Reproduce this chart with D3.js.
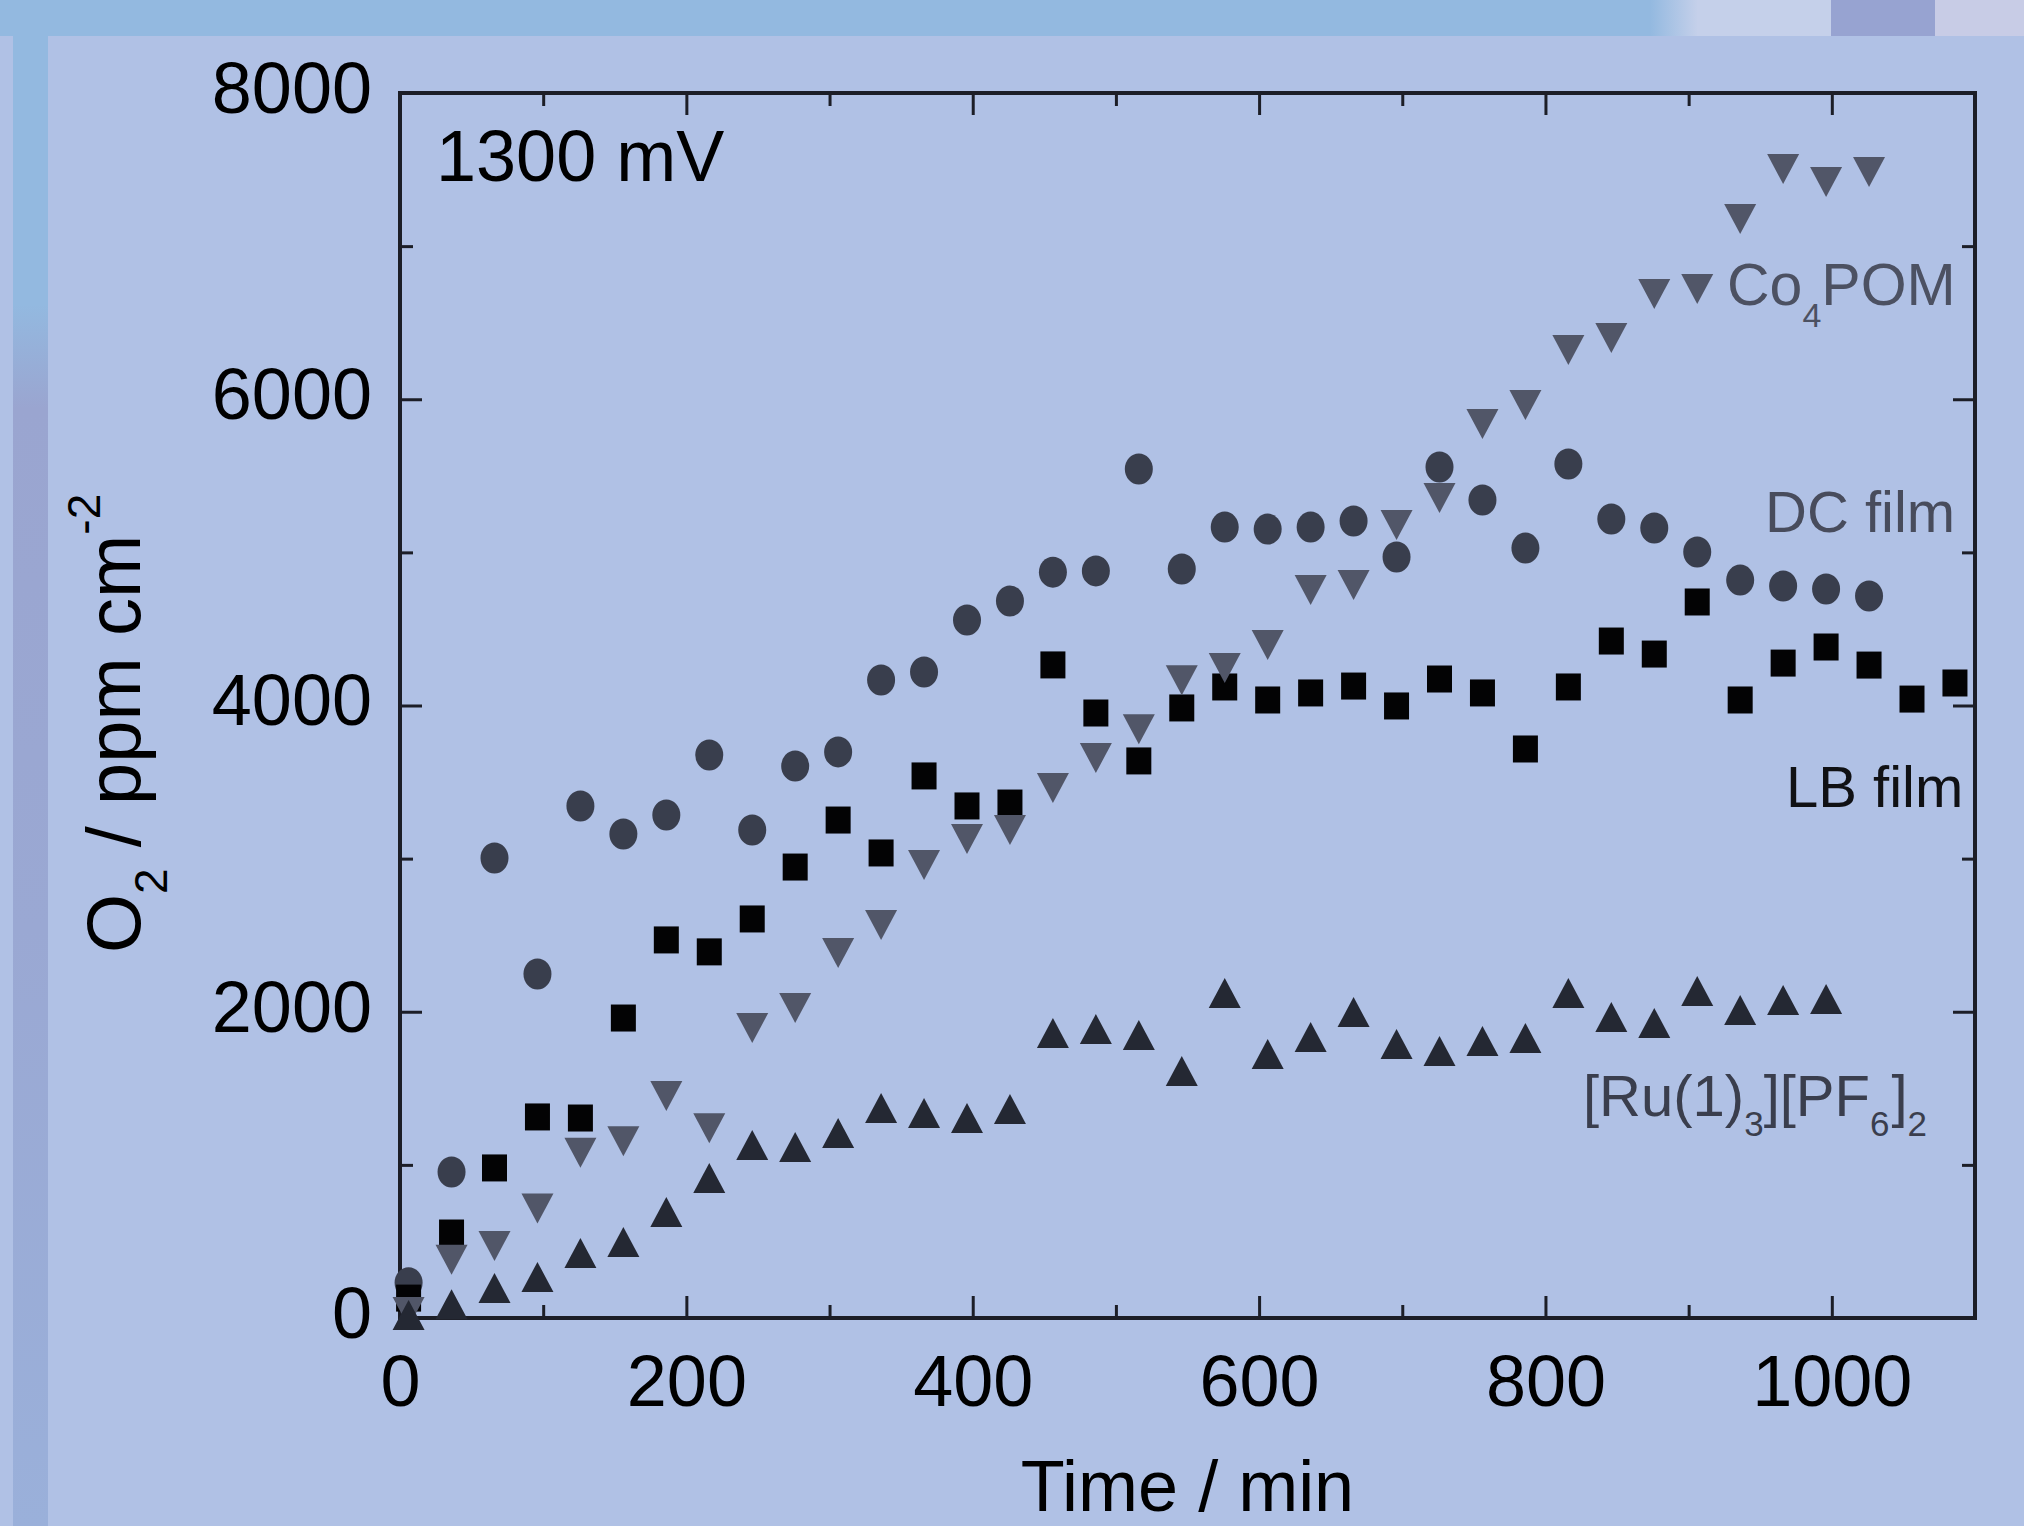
<!DOCTYPE html>
<html><head><meta charset="utf-8">
<script src="https://cdn.jsdelivr.net/npm/d3@7"></script>
<style>
body{margin:0;background:#b0c1e5;}
svg{display:block;}
text{font-family:"Liberation Sans", Arial, Helvetica, sans-serif;}
</style>
</head><body>
<svg id="chart" width="2024" height="1526"></svg>
<script>
// ---- data (time in min, O2 in ppm cm^-2) ----
const times = [6,36,66,96,126,156,186,216,246,276,306,336,366,396,426,456,486,516,546,576,606,636,666,696,726,756,786,816,846,876,906,936,966,996,1026,1056,1086];
const dcFilm = [230,953,3004,2247,3344,3161,3285,3677,3187,3605,3697,4166,4219,4558,4682,4871,4879,5545,4891,5165,5152,5165,5205,4970,5557,5342,5028,5577,5218,5159,5002,4819,4780,4761,4715];
const lbFilm = [130,555,980,1313,1306,1959,2469,2391,2606,2945,3252,3037,3540,3344,3363,4265,3951,3638,3984,4121,4036,4082,4127,3997,4173,4082,3716,4121,4421,4336,4676,4036,4277,4382,4264,4042,4147];
const co4pom = [40,380,470,715,1080,1155,1450,1240,1894,2025,2384,2566,2958,3128,3187,3461,3657,3845,4165,4245,4395,4754,4787,5179,5355,5838,5962,6321,6400,6687,6720,7177,7503,7418,7484];
const ruPF6 = [20,90,196,268,424,496,692,914,1130,1117,1208,1371,1339,1306,1365,1861,1887,1848,1613,2122,1724,1835,1998,1789,1744,1809,1828,2122,1966,1927,2135,2011,2077,2083];

const xTicks = [0,200,400,600,800,1000];
const xMinor = [100,300,500,700,900];
const yTicks = [0,2000,4000,6000,8000];
const yMinor = [1000,3000,5000,7000];

// ---- layout ----
const svg = d3.select('#chart');
const L = 400, R = 1975, T = 93, B = 1318;
const x = d3.scaleLinear().domain([0,1100]).range([L,R]);
const y = d3.scaleLinear().domain([0,8000]).range([B,T]);

// ---- background ----
const defs = svg.append('defs');
const g1 = defs.append('linearGradient').attr('id','strip').attr('x1',0).attr('y1',0).attr('x2',0).attr('y2',1);
[[0,'#93b9e0'],[0.18,'#93b9e0'],[0.25,'#9aa5d0'],[0.6,'#9aa8d3'],[1,'#9ab0da']].forEach(s=>g1.append('stop').attr('offset',s[0]).attr('stop-color',s[1]));
const g2 = defs.append('linearGradient').attr('id','band').attr('x1',0).attr('y1',0).attr('x2',1).attr('y2',0);
[[0,'#93b9e0'],[1,'#c5d0ea']].forEach(s=>g2.append('stop').attr('offset',s[0]).attr('stop-color',s[1]));

svg.append('rect').attr('width',2024).attr('height',1526).attr('fill','#b0c1e5');
svg.append('rect').attr('x',0).attr('y',0).attr('width',2024).attr('height',36).attr('fill','#93b9e0');
svg.append('rect').attr('x',1650).attr('y',0).attr('width',48).attr('height',36).attr('fill','url(#band)');
svg.append('rect').attr('x',1697).attr('y',0).attr('width',134).attr('height',36).attr('fill','#c5d0ea');
svg.append('rect').attr('x',1831).attr('y',0).attr('width',104).attr('height',36).attr('fill','#97a3d1');
svg.append('rect').attr('x',1935).attr('y',0).attr('width',89).attr('height',36).attr('fill','#c8cce6');
svg.append('rect').attr('x',13).attr('y',36).attr('width',35).attr('height',1490).attr('fill','url(#strip)');

// ---- axes (ticks inward on all sides) ----
const axisColor = '#1c1e27';
function styleAxis(g){
  g.select('.domain').remove();
  g.selectAll('.tick line').attr('stroke',axisColor).attr('stroke-width',3);
  g.selectAll('.tick text').attr('fill','#000');
  g.attr('font-family','"Liberation Sans", Arial, sans-serif').attr('font-size',72);
}
svg.append('g').attr('transform',`translate(0,${B})`)
  .call(d3.axisBottom(x).tickValues(xTicks).tickSizeInner(-22).tickSizeOuter(0).tickPadding(37).tickFormat(d3.format('d')))
  .call(styleAxis);
svg.append('g').attr('transform',`translate(0,${B})`)
  .call(d3.axisBottom(x).tickValues(xMinor).tickSizeInner(-13).tickSizeOuter(0).tickFormat(''))
  .call(styleAxis);
svg.append('g').attr('transform',`translate(0,${T})`)
  .call(d3.axisTop(x).tickValues(xTicks).tickSizeInner(-22).tickSizeOuter(0).tickFormat(''))
  .call(styleAxis);
svg.append('g').attr('transform',`translate(0,${T})`)
  .call(d3.axisTop(x).tickValues(xMinor).tickSizeInner(-13).tickSizeOuter(0).tickFormat(''))
  .call(styleAxis);
const yl = svg.append('g').attr('transform',`translate(${L},0)`)
  .call(d3.axisLeft(y).tickValues(yTicks).tickSizeInner(-22).tickSizeOuter(0).tickPadding(28).tickFormat(d3.format('d')))
  .call(styleAxis);
yl.selectAll('.tick text').attr('dy','0.27em');
svg.append('g').attr('transform',`translate(${L},0)`)
  .call(d3.axisLeft(y).tickValues(yMinor).tickSizeInner(-13).tickSizeOuter(0).tickFormat(''))
  .call(styleAxis);
svg.append('g').attr('transform',`translate(${R},0)`)
  .call(d3.axisRight(y).tickValues(yTicks).tickSizeInner(-22).tickSizeOuter(0).tickFormat(''))
  .call(styleAxis);
svg.append('g').attr('transform',`translate(${R},0)`)
  .call(d3.axisRight(y).tickValues(yMinor).tickSizeInner(-13).tickSizeOuter(0).tickFormat(''))
  .call(styleAxis);

svg.append('rect').attr('x',L).attr('y',T).attr('width',R-L).attr('height',B-T)
  .attr('fill','none').attr('stroke',axisColor).attr('stroke-width',4);

// ---- markers ----
const triUp = {draw(c){ const w=16, h=15; c.moveTo(0,-h); c.lineTo(w,h); c.lineTo(-w,h); c.closePath(); }};
const triDown = {draw(c){ const w=16, h=15; c.moveTo(0,h); c.lineTo(w,-h); c.lineTo(-w,-h); c.closePath(); }};
const sq = {draw(c){ const w=12.5, h=13.5; c.moveTo(-w,-h); c.lineTo(w,-h); c.lineTo(w,h); c.lineTo(-w,h); c.closePath(); }};

const pts = arr => arr.map((v,i)=>({t:times[i], v}));

svg.append('g').selectAll('ellipse').data(pts(dcFilm)).join('ellipse')
  .attr('cx',d=>x(d.t)).attr('cy',d=>y(d.v)).attr('rx',14).attr('ry',15.5).attr('fill','#393e4d');
svg.append('g').selectAll('path').data(pts(lbFilm)).join('path')
  .attr('d',d3.symbol(sq)).attr('transform',d=>`translate(${x(d.t)},${y(d.v)})`).attr('fill','#030304');
svg.append('g').selectAll('path').data(pts(co4pom)).join('path')
  .attr('d',d3.symbol(triDown)).attr('transform',d=>`translate(${x(d.t)},${y(d.v)})`).attr('fill','#515668');
svg.append('g').selectAll('path').data(pts(ruPF6)).join('path')
  .attr('d',d3.symbol(triUp)).attr('transform',d=>`translate(${x(d.t)},${y(d.v)})`).attr('fill','#242833');

// ---- annotations ----
svg.append('text').attr('x',436).attr('y',181).attr('font-size',72).attr('fill','#000').text('1300 mV');

const co = svg.append('text').attr('x',1727).attr('y',305).attr('font-size',59).attr('fill','#4c5162');
co.append('tspan').text('Co');
co.append('tspan').attr('font-size',34).attr('dy',22).text('4');
co.append('tspan').attr('dy',-22).text('POM');

svg.append('text').attr('x',1765).attr('y',532).attr('font-size',58).attr('fill','#484c5c').text('DC film');
svg.append('text').attr('x',1786).attr('y',807).attr('font-size',58).attr('fill','#101114').text('LB film');

const ru = svg.append('text').attr('x',1583).attr('y',1116).attr('font-size',58).attr('fill','#3a3e4d');
ru.append('tspan').text('[Ru(1)');
ru.append('tspan').attr('font-size',35).attr('dy',20).text('3');
ru.append('tspan').attr('dy',-20).text('][PF');
ru.append('tspan').attr('font-size',35).attr('dy',20).text('6');
ru.append('tspan').attr('dy',-20).attr('dx',2).text(']');
ru.append('tspan').attr('font-size',35).attr('dy',20).text('2');

// axis titles
svg.append('text').attr('x',(L+R)/2).attr('y',1511).attr('text-anchor','middle').attr('font-size',72).attr('fill','#000').text('Time / min');

const yt = svg.append('text').attr('transform','translate(140,953) rotate(-90)').attr('font-size',76).attr('fill','#000');
yt.append('tspan').text('O');
yt.append('tspan').attr('font-size',46).attr('dy',27).text('2');
yt.append('tspan').attr('dy',-27).text(' / ppm cm');
yt.append('tspan').attr('font-size',46).attr('dy',-40).text('-2');
</script>
</body></html>
